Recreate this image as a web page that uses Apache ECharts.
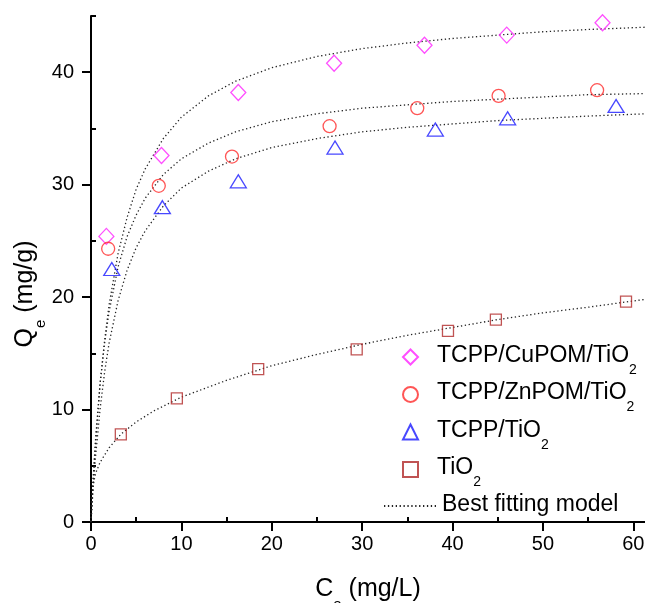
<!DOCTYPE html>
<html>
<head>
<meta charset="utf-8">
<script src="https://cdn.jsdelivr.net/npm/echarts@6/dist/echarts.min.js"></script>
<style>
  html, body { margin: 0; padding: 0; background: #fff; }
  #chart { width: 645px; height: 603px; }
</style>
</head>
<body>
<div id="chart"></div>
<script>
// measured points
const cuX = [1.7, 7.8, 16.3, 26.9, 36.9, 46.0, 56.6]
const cuY = [25.4, 32.6, 38.2, 40.8, 42.4, 43.3, 44.4]
const znX = [1.9, 7.5, 15.6, 26.4, 36.1, 45.1, 56.0]
const znY = [24.3, 29.9, 32.5, 35.2, 36.8, 37.9, 38.4]
const tcX = [2.3, 7.9, 16.3, 27.0, 38.1, 46.1, 58.1]
const tcY = [22.5, 28.0, 30.3, 33.3, 34.9, 35.9, 37.0]
const tiX = [3.3, 9.5, 18.5, 29.4, 39.5, 44.8, 59.2]
const tiY = [7.8, 11.0, 13.6, 15.35, 17.0, 18.0, 19.6]

// fitted curves
const fitX = [0, 0.1, 0.25, 0.5, 1, 1.5, 2, 3, 4, 5, 6, 8, 10, 13, 16, 20, 25, 30, 35, 40, 45, 50, 55, 61.3]
const cuFit = [0, 1.6, 3.8, 7.0, 12.2, 16.1, 19.3, 23.9, 27.1, 29.6, 31.4, 34.1, 36.0, 37.9, 39.2, 40.4, 41.4, 42.1, 42.6, 43.0, 43.3, 43.6, 43.8, 44.0]
const znFit = [0, 1.7, 4.0, 7.3, 12.3, 15.9, 18.7, 22.7, 25.4, 27.3, 28.8, 30.9, 32.3, 33.7, 34.7, 35.6, 36.3, 36.8, 37.1, 37.4, 37.6, 37.8, 38.0, 38.1]
const tcFit = [0, 1.3, 3.1, 5.8, 10.0, 13.3, 15.9, 19.7, 22.4, 24.4, 25.9, 28.1, 29.7, 31.2, 32.3, 33.3, 34.1, 34.7, 35.1, 35.4, 35.7, 35.9, 36.1, 36.3]
const tiFitX = [0, 0.05, 0.2, 0.5, 1, 2, 3.3, 5, 7, 10, 15, 20, 25, 30, 35, 40, 45, 50, 55, 61.3]
const tiFit = [0, 2.0, 3.2, 4.3, 5.3, 6.6, 7.8, 8.9, 9.9, 11.1, 12.6, 13.9, 14.9, 15.8, 16.6, 17.3, 18.0, 18.6, 19.1, 19.8]

const xMajor = [0, 10, 20, 30, 40, 50, 60]
const xMinor = [5, 15, 25, 35, 45, 55]
const yMajor = [0, 10, 20, 30, 40]
const yMinor = [5, 15, 25, 35, 45]

const FONT = "'Liberation Sans', Arial, sans-serif"
const FIT_NAME = 'Best fitting model'
const markerNames = ['TCPP/CuPOM/TiO2', 'TCPP/ZnPOM/TiO2', 'TCPP/TiO2', 'TiO2']

function zip (xs, ys) {
  return xs.map((x, i) => [x, ys[i]])
}

const richTitle = {
  m: { fontSize: 25, fontFamily: FONT, color: '#000', lineHeight: 28, verticalAlign: 'top' },
  sub: { fontSize: 15, fontFamily: FONT, color: '#000', lineHeight: 15, verticalAlign: 'top', padding: [20, 0, 0, 0] }
}

const richLegend = {
  m: { fontSize: 23, fontFamily: FONT, color: '#000', lineHeight: 26, verticalAlign: 'top' },
  sub: { fontSize: 14, fontFamily: FONT, color: '#000', lineHeight: 14, verticalAlign: 'top', padding: [19, 0, 0, 0] }
}

const chart = echarts.init(document.getElementById('chart'))

function markerSeries (name, xs, ys, symbol, size, color) {
  return {
    name: name,
    type: 'scatter',
    data: zip(xs, ys),
    symbol: symbol,
    symbolSize: size,
    z: 3,
    itemStyle: { color: 'rgba(255,255,255,0)', borderColor: color, borderWidth: 1.3 }
  }
}

function fitSeries (xs, ys) {
  return {
    name: FIT_NAME,
    type: 'line',
    data: zip(xs, ys),
    symbol: 'none',
    smooth: false,
    z: 2,
    itemStyle: { color: 'rgba(0,0,0,0)' },
    lineStyle: { color: '#222', width: 1.3, type: [1.3, 2.6] }
  }
}

const valueAxisBase = {
  type: 'value',
  splitLine: { show: false },
  nameMoveOverlap: false,
  axisLine: { show: true, onZero: false, lineStyle: { color: '#000', width: 2 } }
}

const option = {
  animation: false,
  backgroundColor: '#fff',
  grid: { left: 91, right: 0, top: 16, bottom: 81, outerBoundsMode: 'none', containLabel: false },
  xAxis: [
    Object.assign({}, valueAxisBase, {
      min: 0,
      max: 61.3,
      axisTick: { customValues: xMajor, length: 9, lineStyle: { color: '#000', width: 2 } },
      axisLabel: { customValues: xMajor, fontSize: 20, fontFamily: FONT, color: '#000', margin: 12 },
      name: '{m|C}{sub|e}{m| (mg/L)}',
      nameLocation: 'middle',
      nameGap: 55,
      nameTextStyle: { rich: richTitle }
    }),
    Object.assign({}, valueAxisBase, {
      min: 0,
      max: 61.3,
      axisLine: { show: false },
      axisTick: { customValues: xMinor, length: 5, lineStyle: { color: '#000', width: 2 } },
      axisLabel: { show: false }
    })
  ],
  yAxis: [
    Object.assign({}, valueAxisBase, {
      min: 0,
      max: 45,
      axisTick: { customValues: yMajor, length: 9, lineStyle: { color: '#000', width: 2 } },
      axisLabel: { customValues: yMajor, fontSize: 20, fontFamily: FONT, color: '#000', margin: 17 },
      name: '{m|Q}{sub|e}{m| (mg/g)}',
      nameLocation: 'middle',
      nameGap: 50,
      nameTextStyle: { rich: richTitle, padding: [0, 50, 0, 0] }
    }),
    Object.assign({}, valueAxisBase, {
      min: 0,
      max: 45,
      axisLine: { show: false },
      axisTick: { customValues: yMinor, length: 5, lineStyle: { color: '#000', width: 2 } },
      axisLabel: { show: false }
    })
  ],
  legend: [
    {
      orient: 'vertical',
      left: 397,
      top: 339,
      itemWidth: 15,
      itemHeight: 15,
      itemGap: 4.5,
      data: markerNames,
      formatter: function (name) {
        return '{m|' + name.slice(0, -1) + '}{sub|2}'
      },
      textStyle: { padding: [0, 0, 0, 14], rich: richLegend }
    },
    {
      orient: 'vertical',
      left: 378,
      top: 488,
      itemWidth: 53,
      itemHeight: 15,
      data: [{ name: FIT_NAME, itemStyle: { opacity: 0 } }],
      formatter: '{m|{name}}',
      textStyle: { rich: richLegend }
    }
  ],
  series: [
    fitSeries(fitX, cuFit),
    fitSeries(fitX, znFit),
    fitSeries(fitX, tcFit),
    fitSeries(tiFitX, tiFit),
    markerSeries('TCPP/CuPOM/TiO2', cuX, cuY, 'diamond', [15, 16], '#ff22ff'),
    markerSeries('TCPP/ZnPOM/TiO2', znX, znY, 'circle', 13, '#ff2a2a'),
    markerSeries('TCPP/TiO2', tcX, tcY, 'triangle', [16, 13], '#1a1aff'),
    markerSeries('TiO2', tiX, tiY, 'rect', 11, '#b02828')
  ]
}

chart.setOption(option)
</script>
</body>
</html>
